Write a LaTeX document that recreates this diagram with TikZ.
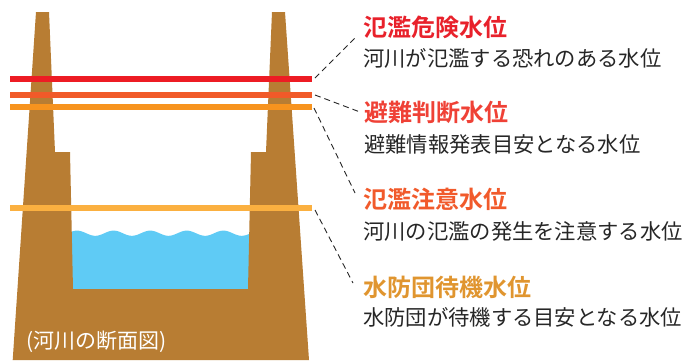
\documentclass[tikz,border=0pt]{standalone}
\usepackage{fontspec}
\newfontfamily\jpfont{Noto Sans CJK JP}
\newfontfamily\jpbold{Noto Sans CJK JP Bold}
\begin{document}
\begin{tikzpicture}[x=1pt,y=-1pt,
  levelline/.style={line width=6pt},
  leader/.style={draw=black!85,line width=0.9pt,dash pattern=on 6pt off 4pt},
  titletext/.style={anchor=west,inner sep=0pt,font=\jpbold\fontsize{24}{24}\selectfont},
  desctext/.style={anchor=west,inner sep=0pt,text=black!85,font=\jpfont\fontsize{21.3}{21.3}\selectfont}]
  \definecolor{bank}{HTML}{B87D33}
  \definecolor{water}{HTML}{5FCBF5}
  \definecolor{lvA}{HTML}{ED1C24}
  \definecolor{lvB}{HTML}{F15A29}
  \definecolor{lvC}{HTML}{F7931E}
  \definecolor{lvD}{HTML}{FBB040}
  \definecolor{tA}{HTML}{E8212B}
  \definecolor{tB}{HTML}{EF4136}
  \definecolor{tC}{HTML}{F15A2B}
  \definecolor{tD}{HTML}{E0952F}
  \useasboundingbox (0,0) rectangle (689,360);

  % water with a wavy surface
  \fill[water] (68,289) -- (68,233)
    -- plot[domain=68:253,samples=120,smooth] ({\x},{233.2-2.6*cos((\x-77)*9.836)})
    -- (253,289) -- cycle;

  % river banks
  \fill[bank] (36,12) -- (49,12) -- (55,152) -- (70,152) -- (73,289)
    -- (248,289) -- (251,152) -- (266,152) -- (272,12) -- (285,12)
    -- (309,360) -- (12.7,360) -- cycle;

  \node[anchor=west,inner sep=0pt,text=white,font=\jpfont\fontsize{21}{21}\selectfont]
    (caption) at (26,342) {(河川の断面図)};

  % water level lines
  \coordinate (a0) at (10,79);    \coordinate (a1) at (312,79);
  \coordinate (b0) at (10,95);    \coordinate (b1) at (312,95);
  \coordinate (c0) at (10,107);   \coordinate (c1) at (312,107);
  \coordinate (d0) at (10,207.5); \coordinate (d1) at (312,207.5);
  \draw[levelline,lvA] (a0) -- (a1);
  \draw[levelline,lvB] (b0) -- (b1);
  \draw[levelline,lvC] (c0) -- (c1);
  \draw[levelline,lvD] (d0) -- (d1);

  % labels
  \node[titletext,text=tA] (tA) at (363,27.5) {氾濫危険水位};
  \node[desctext] (dA) at (363,58) {河川が氾濫する恐れのある水位};
  \node[titletext,text=tB] (tB) at (364,112.5) {避難判断水位};
  \node[desctext] (dB) at (364,144) {避難情報発表目安となる水位};
  \node[titletext,text=tC] (tC) at (363,199) {氾濫注意水位};
  \node[desctext] (dC) at (363,231) {河川の氾濫の発生を注意する水位};
  \node[titletext,text=tD] (tD) at (363,287) {水防団待機水位};
  \node[desctext] (dD) at (363,317.5) {水防団が待機する目安となる水位};

  % leaders from each line to its label
  \coordinate (ea) at (357,36);
  \coordinate (eb) at (360,112);
  \coordinate (ec) at (355,193);
  \coordinate (ed) at (353,283);
  \draw[leader] (315,78) -- (ea);
  \draw[leader] (315,95) -- (eb);
  \draw[leader] (314,108) -- (ec);
  \draw[leader] (315,210) -- (ed);
\end{tikzpicture}
\end{document}
